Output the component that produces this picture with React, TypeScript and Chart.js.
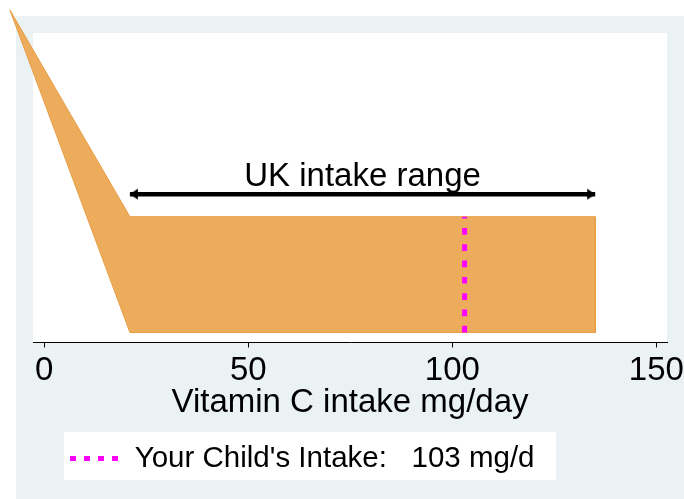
import React, { useEffect, useRef } from 'react';
import { Chart, registerables } from 'chart.js';

Chart.register(...registerables);

const FONT = '"Liberation Sans", Arial, Helvetica, sans-serif';
const BG = 'rgb(234,242,243)';
const ORANGE = 'rgb(237,172,92)';
const ORANGE_EDGE = 'rgb(232,158,68)';
const MAGENTA = '#FF00FF';

// Orange band (polygon vertices, x in mg/day, y in arbitrary units)
const bandX = [-8.4, 21, 135, 135, 21, -8.4];
const bandY = [33.3, 12.6, 12.6, 1.0, 1.0, 33.3];

// Child's intake marker
const childIntake = 103;
const markerY = [1.0, 12.6];

// UK intake range arrow
const rangeX = [21, 135];
const rangeY = 14.85;
const rangeLabel = 'UK intake range';
const rangeLabelY = 15.63;

// Axis
const xTicks = [0, 50, 100, 150];
const xMin = -2.75;
const xMax = 152.6;
const xTitle = 'Vitamin C intake mg/day';
const legendText = `Your Child's Intake:   ${childIntake} mg/d`;

const backdrop = {
  id: 'backdrop',
  beforeDraw(chart: any) {
    const { ctx, chartArea: a } = chart;
    ctx.save();
    ctx.fillStyle = '#ffffff';
    ctx.fillRect(0, 0, chart.width, chart.height);
    ctx.fillStyle = BG;
    ctx.fillRect(16, 16, chart.width - 16, chart.height - 16);
    ctx.fillStyle = '#ffffff';
    ctx.fillRect(a.left, a.top, a.right - a.left, a.bottom - a.top);
    ctx.fillRect(64, 432, 492, 48);
    ctx.restore();
  },
};

const polyFill = {
  id: 'polyFill',
  beforeDatasetDraw(chart: any, args: any) {
    const ds = chart.data.datasets[args.index];
    if (!ds.polyFill) return;
    const pts = args.meta.data;
    const ctx = chart.ctx;
    ctx.save();
    ctx.beginPath();
    pts.forEach((p: any, i: number) => (i ? ctx.lineTo(p.x, p.y) : ctx.moveTo(p.x, p.y)));
    ctx.closePath();
    ctx.fillStyle = ds.backgroundColor;
    ctx.fill();
    ctx.restore();
  },
};

const rangeText = {
  id: 'rangeText',
  afterDatasetsDraw(chart: any) {
    const { ctx, scales } = chart;
    const x = scales.x.getPixelForValue((rangeX[0] + rangeX[1]) / 2);
    const y = scales.y.getPixelForValue(rangeLabelY);
    ctx.save();
    ctx.font = `33px ${FONT}`;
    ctx.fillStyle = '#000';
    ctx.textAlign = 'center';
    ctx.textBaseline = 'alphabetic';
    ctx.fillText(rangeLabel, x, y);
    ctx.restore();
  },
};

export default function App() {
  const ref = useRef<HTMLCanvasElement>(null);

  useEffect(() => {
    const canvas = ref.current!;
    const head = document.createElement('canvas');
    head.width = 20;
    head.height = 12;
    const hc = head.getContext('2d')!;
    hc.fillStyle = '#000';
    hc.beginPath();
    hc.moveTo(2, 0.5);
    hc.lineTo(10, 6);
    hc.lineTo(2, 11.5);
    hc.closePath();
    hc.fill();

    const chart = new Chart(canvas, {
      type: 'scatter',
      data: {
        datasets: [
          {
            label: legendText,
            data: markerY.map((y) => ({ x: childIntake, y })),
            borderColor: MAGENTA,
            backgroundColor: MAGENTA,
            borderWidth: 5,
            borderDash: [6.7, 9.6],
            borderCapStyle: 'butt',
            pointRadius: 0,
            showLine: true,
            clip: false,
            order: 2,
          } as any,
          {
            label: rangeLabel,
            data: rangeX.map((x) => ({ x, y: rangeY })),
            borderColor: '#000',
            backgroundColor: '#000',
            borderWidth: 4.5,
            borderCapStyle: 'butt',
            pointStyle: head,
            pointRadius: 5,
            pointRotation: [180, 0],
            showLine: true,
            clip: false,
            order: 1,
          } as any,
          {
            label: 'band',
            data: bandX.map((x, i) => ({ x, y: bandY[i] })),
            borderColor: ORANGE_EDGE,
            backgroundColor: ORANGE,
            borderWidth: 1,
            pointRadius: 0,
            showLine: true,
            clip: false,
            order: 3,
            polyFill: true,
          } as any,
        ],
      },
      options: {
        animation: false,
        responsive: false,
        devicePixelRatio: 1,
        events: [],
        layout: { padding: { top: 33, left: 33, right: 17, bottom: 15.8 } },
        scales: {
          x: {
            type: 'linear',
            min: xMin,
            max: xMax,
            afterBuildTicks: (s: any) => {
              s.ticks = xTicks.map((v) => ({ value: v }));
            },
            afterFit: (s: any) => {
              s.paddingLeft = 0;
              s.paddingRight = 0;
            },
            grid: {
              display: true,
              drawOnChartArea: false,
              drawTicks: true,
              tickLength: 5,
              color: '#000',
              lineWidth: 1,
            },
            border: { display: true, color: '#000', width: 1 },
            ticks: {
              font: { family: FONT, size: 33, lineHeight: 1 },
              color: '#000',
              padding: 7.3,
              maxRotation: 0,
              autoSkip: false,
            },
            title: {
              display: true,
              text: xTitle,
              color: '#000',
              font: { family: FONT, size: 33, lineHeight: '8.4px' as any },
              padding: { top: 3.2, bottom: 0 },
            },
          },
          y: { display: false, min: 0, max: 31 },
        },
        plugins: {
          tooltip: { enabled: false },
          legend: {
            position: 'bottom',
            align: 'start',
            onClick: () => {},
            labels: {
              usePointStyle: true,
              pointStyleWidth: 50,
              padding: 37,
              color: '#000',
              font: { family: FONT, size: 29.5 },
              generateLabels: (c: any) => {
                const ds = c.data.datasets[0];
                return [
                  {
                    text: ds.label,
                    fillStyle: 'rgba(0,0,0,0)',
                    strokeStyle: ds.borderColor,
                    lineWidth: ds.borderWidth,
                    lineDash: [6, 8],
                    lineCap: 'butt',
                    pointStyle: 'line',
                    fontColor: '#000',
                    hidden: false,
                    datasetIndex: 0,
                  },
                ];
              },
            },
          },
        },
      },
      plugins: [backdrop, polyFill, rangeText],
    } as any);

    return () => chart.destroy();
  }, []);

  return (
    <div style={{ position: 'absolute', left: 0, top: 0, width: 684, height: 499 }}>
      <canvas ref={ref} width={684} height={499} style={{ display: 'block', width: 684, height: 499 }} />
    </div>
  );
}
